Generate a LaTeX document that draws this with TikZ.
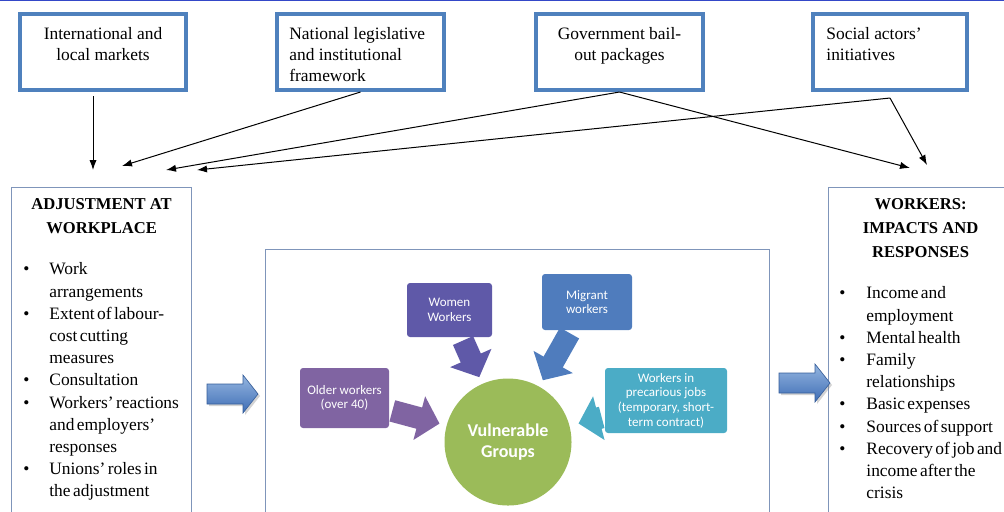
\documentclass[tikz,border=0pt]{standalone}
\usepackage{fontspec}
\setmainfont{Liberation Serif}
\newfontfamily\calibri{Carlito}
\usetikzlibrary{arrows.meta}
\usetikzlibrary{shadows}
\usetikzlibrary{positioning}

\definecolor{boxblue}{HTML}{4F81BD}
\definecolor{framegray}{HTML}{7F95BA}
\definecolor{womencol}{HTML}{5F59A8}
\definecolor{migrantcol}{HTML}{4F7CBD}
\definecolor{oldercol}{HTML}{8064A2}
\definecolor{precol}{HTML}{4BACC6}
\definecolor{groupcol}{HTML}{9BBB59}
\definecolor{arrowtop}{HTML}{95B6E0}
\definecolor{arrowbot}{HTML}{3E6DB5}
\definecolor{topline}{HTML}{3447C8}

\begin{document}
\begin{tikzpicture}[x=0.5pt, y=-0.5pt, >={Latex[length=5pt,width=3.6pt]},
    topbox/.style={draw=boxblue, line width=2pt, inner sep=0pt},
    frame/.style={draw=framegray, line width=0.6pt, inner sep=0pt},
    toptext/.style={font=\fontsize{8.7}{10.5}\selectfont, inner sep=0pt},
    titletext/.style={font=\bfseries\fontsize{8.3}{12}\selectfont, inner sep=0pt, align=center},
    listtext/.style={font=\fontsize{8.7}{11.1}\selectfont, inner sep=0pt},
    smallbox/.style={rounded corners=1.5pt, text=white, align=center, inner sep=0pt,
      font=\calibri\fontsize{6.5}{7.3}\selectfont},
    fat/.style={line width=11pt, -{Triangle[width=22pt,length=10.5pt]}},
    bigarrow/.style={top color=arrowtop, bottom color=arrowbot, draw=arrowbot!85!black,
      line width=0.3pt, drop shadow={shadow xshift=1pt, shadow yshift=-1pt, opacity=0.35}}]
  \path[use as bounding box] (0,0) rectangle (1004,511);
  \clip (0,0) rectangle (1004,511);

  \draw[topline, line width=1pt] (0,0) -- (1004,0);

  % outside influences
  \node[topbox, minimum width=83pt, minimum height=38pt] (markets) at (103,52) {};
  \node[topbox, minimum width=83.5pt, minimum height=38pt] (legal) at (360.5,52) {};
  \node[topbox, minimum width=83.5pt, minimum height=38pt] (bailout) at (619.5,52) {};
  \node[topbox, minimum width=77pt, minimum height=38pt] (social) at (890,52) {};

  \node[toptext, align=center, anchor=north] (marketstxt) at ([yshift=-7.3pt]markets.north) {International and\\local markets};
  \node[toptext, align=left, anchor=north west] (legaltxt) at ([xshift=7pt, yshift=-7.3pt]legal.north west) {National legislative\\and institutional\\framework};
  \node[toptext, align=center, anchor=north] (bailouttxt) at ([yshift=-7.3pt]bailout.north) {Government bail-\\out packages};
  \node[toptext, align=left, anchor=north west] (socialtxt) at ([xshift=7.5pt, yshift=-7.3pt]social.north west) {Social actors’\\initiatives};

  \coordinate (a1) at (93,170);
  \coordinate (a2) at (122,166);
  \coordinate (a3) at (166,170);
  \coordinate (a4) at (197,170);
  \coordinate (w1) at (910,168);
  \coordinate (w2) at (927,165);

  \draw[->, line width=0.5pt] ([xshift=-5pt, yshift=-2pt]markets.south) -- (a1);
  \draw[->, line width=0.5pt] (legal.south) -- (a2);
  \draw[->, line width=0.5pt] (bailout.south) -- (a3);
  \draw[->, line width=0.5pt] (bailout.south) -- (w1);
  \draw[->, line width=0.5pt] ([yshift=-3pt]social.south) -- (a4);
  \draw[->, line width=0.5pt] ([yshift=-3pt]social.south) -- (w2);

  % three panels
  \node[frame, minimum width=90pt, minimum height=175pt, anchor=north west] (adj) at (11,187) {};
  \node[frame, minimum width=252pt, minimum height=145pt, anchor=north west] (groups) at (265,249) {};
  \node[frame, minimum width=92pt, minimum height=175pt, anchor=north west] (workers) at (828,187) {};

  \node[titletext, anchor=north] (adjtitle) at ([yshift=-5.5pt]adj.north) {ADJUSTMENT AT\\WORKPLACE};
  \node[listtext, anchor=north west] (adjlist) at (23,259) {%
    \spaceskip=1.2pt plus 0.5pt\relax
    \begin{tabular}{@{}p{13pt}@{}l@{}}
      \textbullet & Work\\
                  & arrangements\\
      \textbullet & Extent of labour-\\
                  & cost cutting\\
                  & measures\\
      \textbullet & Consultation\\
      \textbullet & Workers’ reactions\\
                  & and employers’\\
                  & responses\\
      \textbullet & Unions’ roles in\\
                  & the adjustment
    \end{tabular}};

  \node[titletext, anchor=north] (workerstitle) at ([yshift=-5.5pt]workers.north) {WORKERS:\\IMPACTS AND\\RESPONSES};
  \node[listtext, anchor=north west] (workerslist) at (839,283) {%
    \spaceskip=1.2pt plus 0.5pt\relax
    \begin{tabular}{@{}p{13.5pt}@{}l@{}}
      \textbullet & Income and\\
                  & employment\\
      \textbullet & Mental health\\
      \textbullet & Family\\
                  & relationships\\
      \textbullet & Basic expenses\\
      \textbullet & Sources of support\\
      \textbullet & Recovery of job and\\
                  & income after the\\
                  & crisis
    \end{tabular}};

  \coordinate (ltail) at (207,394);
  \coordinate (rtail) at (779,383);
  \path[bigarrow] (ltail) ++(0,-10) -- ++(36,0) -- ++(0,-9) -- ++(15,19) -- ++(-15,19) -- ++(0,-9) -- ++(-36,0) -- cycle;
  \path[bigarrow] (rtail) ++(0,-10) -- ++(36,0) -- ++(0,-9) -- ++(15,19) -- ++(-15,19) -- ++(0,-9) -- ++(-36,0) -- cycle;

  % vulnerable groups
  \node[circle, fill=groupcol, minimum size=63.5pt, inner sep=0pt, text=white, align=center,
    font=\calibri\bfseries\fontsize{9}{10.5}\selectfont] (vg) at (508,442) {Vulnerable\\Groups};
  \node[smallbox, fill=womencol, minimum width=42.5pt, minimum height=27pt] (women) at (449.5,310) {Women\\Workers};
  \node[smallbox, fill=migrantcol, minimum width=45pt, minimum height=28pt] (migrant) at (587,302) {Migrant\\workers};
  \node[smallbox, fill=oldercol, minimum width=44.5pt, minimum height=30pt] (older) at (344.5,398) {Older workers\\(over 40)};
  \node[smallbox, fill=precol, minimum width=61pt, minimum height=32.5pt] (precarious) at (666,400.5) {Workers in\\precarious jobs\\(temporary, short-\\term contract)};

  \draw[fat, oldercol, shorten <=1.5pt, shorten >=3.5pt] (older) -- (vg);
  \draw[fat, womencol, shorten <=1.7pt, shorten >=3.5pt] (women) -- (vg);
  \draw[fat, migrantcol, shorten <=1.5pt, shorten >=3.5pt] (migrant) -- (vg);
  \draw[fat, precol, shorten <=1.5pt, shorten >=4.5pt] (precarious) -- (vg);
\end{tikzpicture}
\end{document}
